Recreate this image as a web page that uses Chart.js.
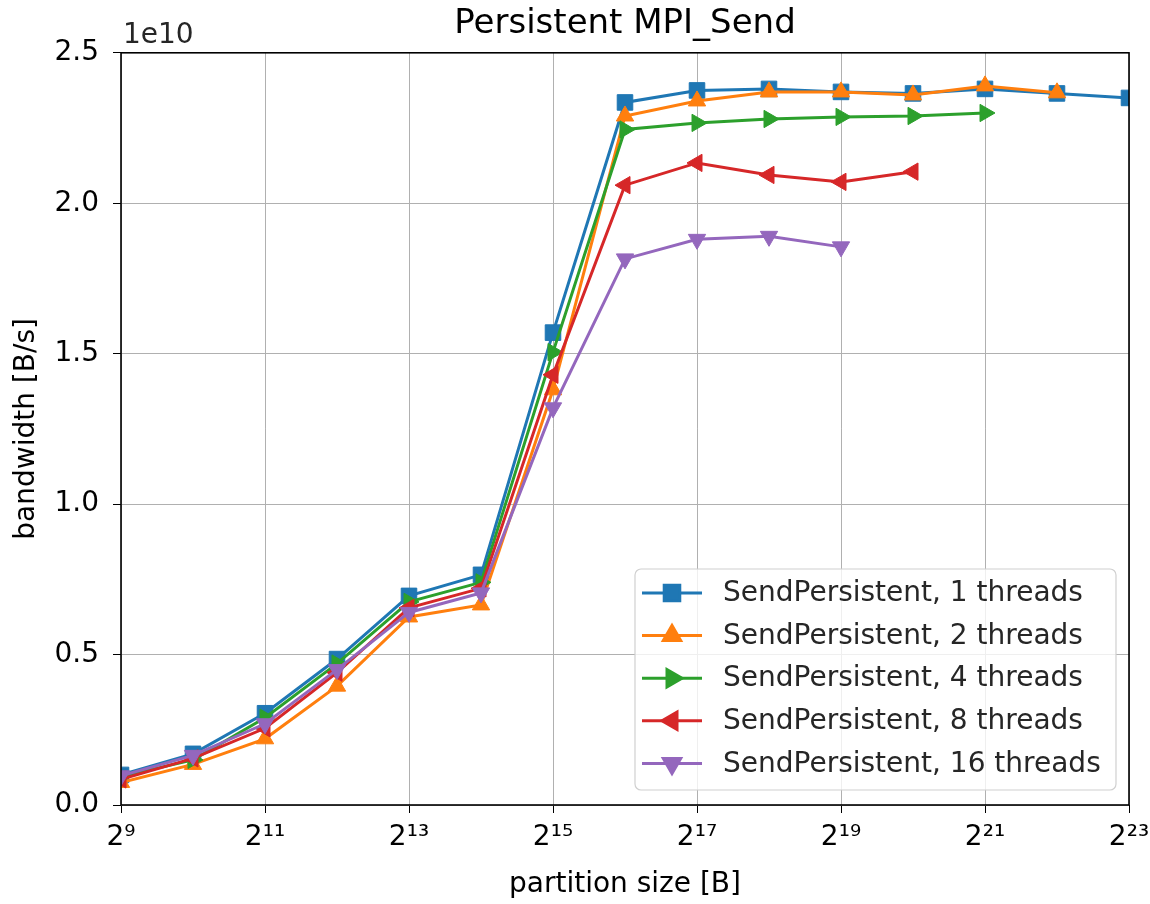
<!DOCTYPE html>
<html>
<head>
<meta charset="utf-8">
<script src="https://cdn.jsdelivr.net/npm/chart.js@4/dist/chart.umd.min.js"></script>
<style>
  html, body { margin: 0; padding: 0; background: #fff; }
  #wrap { width: 1150px; height: 904px; }
</style>
</head>
<body>
<div id="wrap"><canvas id="chart" width="1150" height="904"></canvas></div>
<script>
// partition size = 2^exp bytes
const exps = [9, 10, 11, 12, 13, 14, 15, 16, 17, 18, 19, 20, 21, 22, 23];
const xTicks = [9, 11, 13, 15, 17, 19, 21, 23];
const yTicks = [0, 0.5e10, 1.0e10, 1.5e10, 2.0e10, 2.5e10];

// bandwidth [B/s]
const threads1 = [1.0e9, 1.7e9, 3.05e9, 4.85e9, 6.95e9, 7.65e9, 1.57e10, 2.335e10, 2.375e10, 2.38e10, 2.37e10, 2.365e10, 2.38e10, 2.365e10, 2.35e10];
const threads2 = [0.75e9, 1.35e9, 2.2e9, 3.95e9, 6.25e9, 6.65e9, 1.38e10, 2.29e10, 2.34e10, 2.37e10, 2.37e10, 2.36e10, 2.39e10, 2.367e10];
const threads4 = [0.95e9, 1.5e9, 2.9e9, 4.7e9, 6.75e9, 7.4e9, 1.505e10, 2.245e10, 2.267e10, 2.28e10, 2.287e10, 2.29e10, 2.30e10];
const threads8 = [0.85e9, 1.55e9, 2.55e9, 4.4e9, 6.55e9, 7.2e9, 1.43e10, 2.06e10, 2.134e10, 2.094e10, 2.071e10, 2.105e10];
const threads16 = [0.97e9, 1.65e9, 2.7e9, 4.5e9, 6.4e9, 7.05e9, 1.32e10, 1.815e10, 1.88e10, 1.89e10, 1.855e10];

const labels = [
  "SendPersistent, 1 threads",
  "SendPersistent, 2 threads",
  "SendPersistent, 4 threads",
  "SendPersistent, 8 threads",
  "SendPersistent, 16 threads"
];
const series = [threads1, threads2, threads4, threads8, threads16];
const colors = ["#1f77b4", "#ff7f0e", "#2ca02c", "#d62728", "#9467bd"];
const shapes = ["rect", "triangle", "triangle", "triangle", "triangle"];
const rotations = [0, 0, 90, 270, 180];
const radii = [11, 10, 10, 10, 10];

const sup = { "0": "⁰", "1": "¹", "2": "²", "3": "³", "4": "⁴", "5": "⁵", "6": "⁶", "7": "⁷", "8": "⁸", "9": "⁹" };
const pow2 = (e) => "2" + String(e).split("").map((c) => sup[c]).join("");

const FONT = "'DejaVu Sans', sans-serif";

const datasets = series.map((vals, i) => ({
  label: labels[i],
  data: vals.map((v, j) => ({ x: exps[j], y: v })),
  borderColor: colors[i],
  backgroundColor: colors[i],
  borderWidth: 3,
  pointStyle: shapes[i],
  rotation: rotations[i],
  pointRadius: radii[i],
  pointBorderWidth: 1,
  pointBorderColor: colors[i],
  pointBackgroundColor: colors[i],
  tension: 0,
  clip: 0,
  order: 4 - i,
}));

// frame, offset text and matplotlib-style legend
const decor = {
  id: "decor",
  afterDatasetsDraw(chart) {
    const { ctx, chartArea: a } = chart;
    ctx.save();
    ctx.strokeStyle = "#000";
    ctx.lineWidth = 1.6;
    ctx.strokeRect(a.left, a.top, a.right - a.left, a.bottom - a.top);
    ctx.fillStyle = "#262626";
    ctx.font = "28px " + FONT;
    ctx.textAlign = "left";
    ctx.textBaseline = "alphabetic";
    ctx.fillText("1e10", a.left + 2, a.top - 10);
    ctx.restore();
  },
  afterDraw(chart) {
    const { ctx } = chart;
    const box = { x: 635, y: 569, w: 481, h: 221 };
    ctx.save();
    ctx.beginPath();
    ctx.roundRect(box.x, box.y, box.w, box.h, 6);
    ctx.fillStyle = "rgba(255,255,255,0.8)";
    ctx.fill();
    ctx.strokeStyle = "#d0d0d0";
    ctx.lineWidth = 1.2;
    ctx.stroke();
    ctx.font = "28px " + FONT;
    ctx.textBaseline = "middle";
    labels.forEach((lab, i) => {
      const cy = 593 + i * 42.6;
      ctx.strokeStyle = colors[i];
      ctx.lineWidth = 3;
      ctx.beginPath();
      ctx.moveTo(642, cy);
      ctx.lineTo(702, cy);
      ctx.stroke();
      ctx.fillStyle = colors[i];
      Chart.helpers.drawPoint(ctx, {
        pointStyle: shapes[i],
        rotation: rotations[i],
        radius: radii[i],
        borderWidth: 1,
      }, 672, cy);
      ctx.fillStyle = "#262626";
      ctx.fillText(lab, 723, cy + 1);
    });
    ctx.restore();
  }
};

new Chart(document.getElementById("chart"), {
  type: "line",
  data: { datasets },
  plugins: [decor],
  options: {
    responsive: false,
    animation: false,
    devicePixelRatio: 1,
    layout: { padding: { left: 0, right: 21, top: 0, bottom: 0 } },
    plugins: {
      legend: { display: false },
      tooltip: { enabled: false },
      title: {
        display: true,
        fullSize: false,
        text: "Persistent MPI_Send",
        color: "#000",
        font: { family: FONT, size: 34, weight: "normal" },
        padding: { top: 4, bottom: 8 },
      },
    },
    scales: {
      x: {
        type: "linear",
        min: 9,
        max: 23,
        afterBuildTicks: (s) => { s.ticks = xTicks.map((v) => ({ value: v })); },
        afterFit: (s) => { s.height = 99; s.paddingLeft = 0; s.paddingRight = 0; },
        ticks: {
          color: "#000",
          font: { family: FONT, size: 28 },
          padding: 8,
          maxRotation: 0,
          autoSkip: false,
          callback: (v) => pow2(v),
        },
        grid: { color: "#b0b0b0", lineWidth: 1, tickColor: "#000", tickLength: 8 },
        border: { display: false },
        title: {
          display: true,
          text: "partition size [B]",
          color: "#000",
          font: { family: FONT, size: 28 },
          padding: { top: 0, bottom: 2 },
        },
      },
      y: {
        min: 0,
        max: 2.5e10,
        afterBuildTicks: (s) => { s.ticks = yTicks.map((v) => ({ value: v })); },
        afterFit: (s) => { s.width = 121; },
        ticks: {
          color: "#000",
          font: { family: FONT, size: 28 },
          padding: 14,
          callback: (v) => (v / 1e10).toFixed(1),
        },
        grid: { color: "#b0b0b0", lineWidth: 1, tickColor: "#000", tickLength: 8 },
        border: { display: false },
        title: {
          display: true,
          text: "bandwidth [B/s]",
          color: "#000",
          font: { family: FONT, size: 28 },
          padding: { top: 10, bottom: 0 },
        },
      },
    },
  },
});
</script>
</body>
</html>
